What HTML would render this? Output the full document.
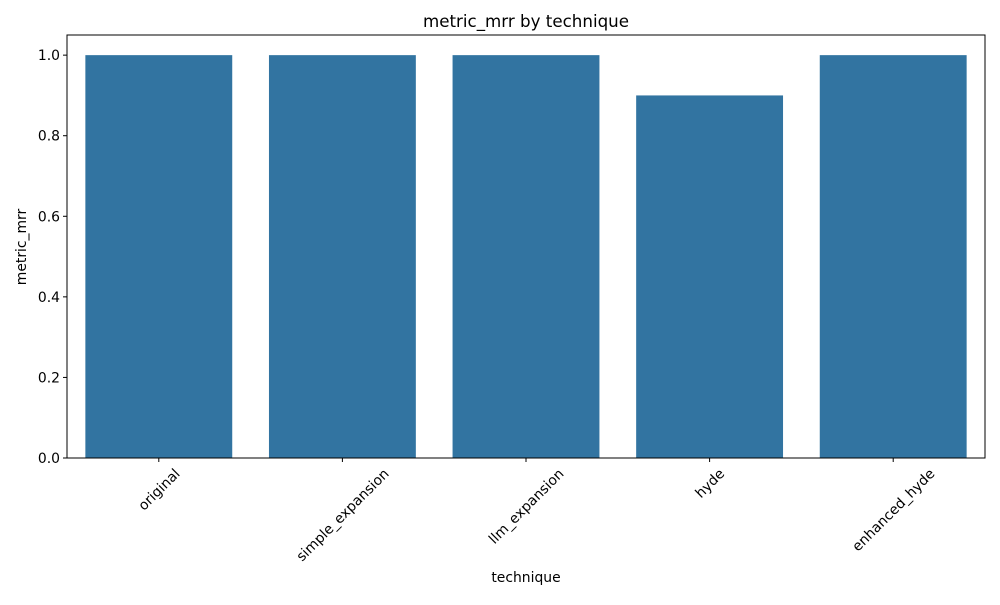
<!DOCTYPE html>
<html><head><meta charset="utf-8"><style>
body{margin:0;background:#fff;}
svg text{font-family:"DejaVu Sans","Liberation Sans",sans-serif;fill:#000;}
</style></head><body>
<svg id="chart" width="1000" height="600">
<text x="526" y="27" font-size="16.7" text-anchor="middle">metric_mrr by technique</text>
<g id="bars"></g>
<g id="yaxis"></g>
<g id="xaxis"></g>
<rect x="67" y="35" width="918" height="423" fill="none" stroke="#000" stroke-width="1"/>
<text x="526" y="582" font-size="13.9" text-anchor="middle">technique</text>
<text x="0" y="0" font-size="13.9" text-anchor="middle" transform="translate(26,247) rotate(-90)">metric_mrr</text>
</svg>
<script>
const categories=["original","simple_expansion","llm_expansion","hyde","enhanced_hyde"];
const values=[1.0,1.0,1.0,0.9,1.0];
const yTicks=[0.0,0.2,0.4,0.6,0.8,1.0];
const yTickLabels=["0.0","0.2","0.4","0.6","0.8","1.0"];
const NS="http://www.w3.org/2000/svg";
const L=67,R=985,T=35,B=458,YMAX=1.05;
const y=v=>B-(v/YMAX)*(B-T);
const step=(R-L)/categories.length;
const x=i=>L+step*(i+0.5);
function mk(tag,attrs,parent){const e=document.createElementNS(NS,tag);for(const k in attrs)e.setAttribute(k,attrs[k]);parent.appendChild(e);return e;}
const gb=document.getElementById('bars'),gy=document.getElementById('yaxis'),gx=document.getElementById('xaxis');
values.forEach((v,i)=>{
 const w=step*0.8;
 const r=mk('rect',{x:x(i)-w/2,y:y(v),width:w,height:B-y(v),fill:'#3274a1'},gb);
 
 
});
yTicks.forEach((t,i)=>{
 const ln=mk('line',{x1:L-4,x2:L,y1:y(t),y2:y(t),stroke:'#000'},gy);
 
 
 const tx=mk('text',{x:L-7,y:y(t)+5,'font-size':13.9,'text-anchor':'end'},gy);
 tx.textContent=yTickLabels[i];
 
 
});
categories.forEach((c,i)=>{
 const ln=mk('line',{x1:x(i),x2:x(i),y1:B,y2:B+4,stroke:'#000'},gx);
 
 
 const tx=mk('text',{x:0,y:5,'font-size':13.9,'text-anchor':'middle'},gx);
 tx.textContent=c;
 
 
 const w=tx.getComputedTextLength();
 const half=(w+14)*0.7071/2;
 tx.setAttribute('transform',`translate(${x(i)},${B+8+half}) rotate(-45)`);
});
</script>
</body></html>
